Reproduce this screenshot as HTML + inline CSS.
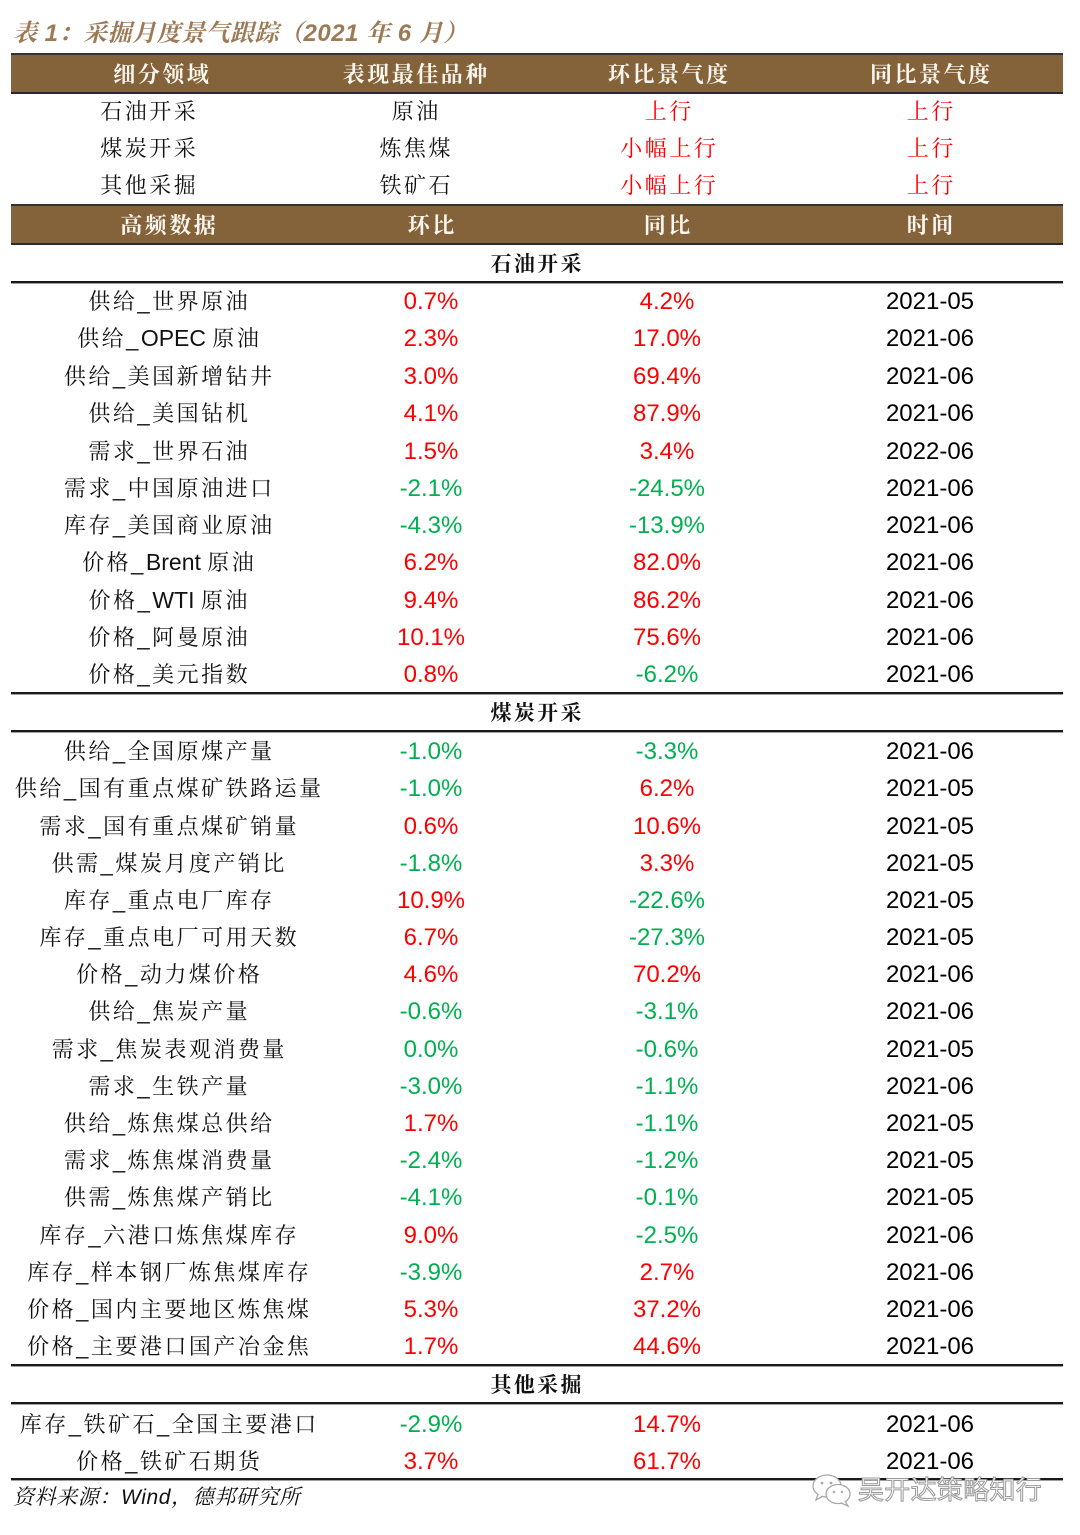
<!DOCTYPE html>
<html><head><meta charset="utf-8">
<style>
html,body{margin:0;padding:0;background:#fff;}
body{width:1080px;height:1535px;position:relative;overflow:hidden;font-family:"Liberation Sans","Noto Serif CJK SC",serif;}
.title{position:absolute;left:13px;top:18px;font-family:"Liberation Sans","Noto Serif CJK SC",serif;font-weight:700;font-style:italic;font-size:24px;line-height:32px;color:#9c7a55;white-space:nowrap;letter-spacing:0.5px;}
.band{position:absolute;left:11px;width:1052px;background:#84633a;border-top:2px solid #333;border-bottom:2px solid #2a2a2a;box-sizing:border-box;}
.ln{position:absolute;left:11px;width:1052px;height:2px;background:#1a1a1a;border-bottom:1px solid #a0a0a0;}
.r{position:absolute;left:0;width:1080px;height:37px;line-height:37px;}
.c{position:absolute;top:0;width:320px;text-align:center;white-space:nowrap;}
.t{font-family:"Liberation Sans","Noto Serif CJK SC",serif;font-size:22px;letter-spacing:2.5px;text-indent:2.5px;color:#111;}
.t .l{letter-spacing:0;font-size:23px;}
.h{font-family:"Noto Serif CJK SC",serif;font-weight:700;font-size:22px;letter-spacing:2.5px;text-indent:2.5px;color:#fbf7f0;}
.s{font-family:"Noto Serif CJK SC",serif;font-weight:700;font-size:21px;letter-spacing:2.3px;text-indent:2.3px;color:#111;}
.n{font-family:"Liberation Sans",sans-serif;font-size:24px;}
.red{color:#ff0000;}
.grn{color:#00b050;}
.blk{color:#000;}
.c1{left:8px;} .c2{left:271px;} .c3{left:507px;} .c4{left:770px;}
.u1{left:-12px;} .uh1{left:1px;} .u2{left:255px;} .u3{left:508px;} .u4{left:770px;}
.foot{position:absolute;left:13px;top:1484px;font-family:"Liberation Sans","Noto Serif CJK SC",serif;font-style:italic;font-size:21px;line-height:28px;color:#111;white-space:nowrap;letter-spacing:0.6px;}
.wm{position:absolute;left:858px;top:1474px;font-family:"Liberation Sans","Noto Sans CJK SC",sans-serif;font-size:26px;line-height:32px;color:#fff;-webkit-text-stroke:1px #9a9a9a;white-space:nowrap;letter-spacing:0.3px;}
</style></head><body>

<div class="title">表 1：采掘月度景气跟踪（2021 年 6 月）</div>

<!-- Upper header band -->
<div class="band" style="top:53px;height:41px;"></div>
<div class="r" style="top:55px;"><div class="c uh1 h">细分领域</div><div class="c u2 h">表现最佳品种</div><div class="c u3 h">环比景气度</div><div class="c u4 h">同比景气度</div></div>

<div class="r" style="top:93px;"><div class="c u1 t">石油开采</div><div class="c u2 t">原油</div><div class="c u3 t red">上行</div><div class="c u4 t red">上行</div></div>
<div class="r" style="top:130px;"><div class="c u1 t">煤炭开采</div><div class="c u2 t">炼焦煤</div><div class="c u3 t red">小幅上行</div><div class="c u4 t red">上行</div></div>
<div class="r" style="top:167px;"><div class="c u1 t">其他采掘</div><div class="c u2 t">铁矿石</div><div class="c u3 t red">小幅上行</div><div class="c u4 t red">上行</div></div>

<!-- Lower header band -->
<div class="band" style="top:204px;height:41px;"></div>
<div class="r" style="top:206px;"><div class="c c1 h">高频数据</div><div class="c c2 h">环比</div><div class="c c3 h">同比</div><div class="c c4 h">时间</div></div>

<div class="r" style="top:245px;"><div class="c s" style="left:376px;">石油开采</div></div>
<div class="ln" style="top:281px;"></div>

<div class="r" style="top:283px;"><div class="c c1 t">供给_世界原油</div><div class="c c2 n red">0.7%</div><div class="c c3 n red">4.2%</div><div class="c c4 n blk">2021-05</div></div>
<div class="r" style="top:320px;"><div class="c c1 t">供给_<span class="l">OPEC </span>原油</div><div class="c c2 n red">2.3%</div><div class="c c3 n red">17.0%</div><div class="c c4 n blk">2021-06</div></div>
<div class="r" style="top:358px;"><div class="c c1 t">供给_美国新增钻井</div><div class="c c2 n red">3.0%</div><div class="c c3 n red">69.4%</div><div class="c c4 n blk">2021-06</div></div>
<div class="r" style="top:395px;"><div class="c c1 t">供给_美国钻机</div><div class="c c2 n red">4.1%</div><div class="c c3 n red">87.9%</div><div class="c c4 n blk">2021-06</div></div>
<div class="r" style="top:433px;"><div class="c c1 t">需求_世界石油</div><div class="c c2 n red">1.5%</div><div class="c c3 n red">3.4%</div><div class="c c4 n blk">2022-06</div></div>
<div class="r" style="top:470px;"><div class="c c1 t">需求_中国原油进口</div><div class="c c2 n grn">-2.1%</div><div class="c c3 n grn">-24.5%</div><div class="c c4 n blk">2021-06</div></div>
<div class="r" style="top:507px;"><div class="c c1 t">库存_美国商业原油</div><div class="c c2 n grn">-4.3%</div><div class="c c3 n grn">-13.9%</div><div class="c c4 n blk">2021-06</div></div>
<div class="r" style="top:544px;"><div class="c c1 t">价格_<span class="l">Brent </span>原油</div><div class="c c2 n red">6.2%</div><div class="c c3 n red">82.0%</div><div class="c c4 n blk">2021-06</div></div>
<div class="r" style="top:582px;"><div class="c c1 t">价格_<span class="l">WTI </span>原油</div><div class="c c2 n red">9.4%</div><div class="c c3 n red">86.2%</div><div class="c c4 n blk">2021-06</div></div>
<div class="r" style="top:619px;"><div class="c c1 t">价格_阿曼原油</div><div class="c c2 n red">10.1%</div><div class="c c3 n red">75.6%</div><div class="c c4 n blk">2021-06</div></div>
<div class="r" style="top:656px;"><div class="c c1 t">价格_美元指数</div><div class="c c2 n red">0.8%</div><div class="c c3 n grn">-6.2%</div><div class="c c4 n blk">2021-06</div></div>

<div class="ln" style="top:692px;"></div>
<div class="r" style="top:694px;"><div class="c s" style="left:376px;">煤炭开采</div></div>
<div class="ln" style="top:730px;"></div>

<div class="r" style="top:733px;"><div class="c c1 t">供给_全国原煤产量</div><div class="c c2 n grn">-1.0%</div><div class="c c3 n grn">-3.3%</div><div class="c c4 n blk">2021-06</div></div>
<div class="r" style="top:770px;"><div class="c c1 t">供给_国有重点煤矿铁路运量</div><div class="c c2 n grn">-1.0%</div><div class="c c3 n red">6.2%</div><div class="c c4 n blk">2021-05</div></div>
<div class="r" style="top:808px;"><div class="c c1 t">需求_国有重点煤矿销量</div><div class="c c2 n red">0.6%</div><div class="c c3 n red">10.6%</div><div class="c c4 n blk">2021-05</div></div>
<div class="r" style="top:845px;"><div class="c c1 t">供需_煤炭月度产销比</div><div class="c c2 n grn">-1.8%</div><div class="c c3 n red">3.3%</div><div class="c c4 n blk">2021-05</div></div>
<div class="r" style="top:882px;"><div class="c c1 t">库存_重点电厂库存</div><div class="c c2 n red">10.9%</div><div class="c c3 n grn">-22.6%</div><div class="c c4 n blk">2021-05</div></div>
<div class="r" style="top:919px;"><div class="c c1 t">库存_重点电厂可用天数</div><div class="c c2 n red">6.7%</div><div class="c c3 n grn">-27.3%</div><div class="c c4 n blk">2021-05</div></div>
<div class="r" style="top:956px;"><div class="c c1 t">价格_动力煤价格</div><div class="c c2 n red">4.6%</div><div class="c c3 n red">70.2%</div><div class="c c4 n blk">2021-06</div></div>
<div class="r" style="top:993px;"><div class="c c1 t">供给_焦炭产量</div><div class="c c2 n grn">-0.6%</div><div class="c c3 n grn">-3.1%</div><div class="c c4 n blk">2021-06</div></div>
<div class="r" style="top:1031px;"><div class="c c1 t">需求_焦炭表观消费量</div><div class="c c2 n grn">0.0%</div><div class="c c3 n grn">-0.6%</div><div class="c c4 n blk">2021-05</div></div>
<div class="r" style="top:1068px;"><div class="c c1 t">需求_生铁产量</div><div class="c c2 n grn">-3.0%</div><div class="c c3 n grn">-1.1%</div><div class="c c4 n blk">2021-06</div></div>
<div class="r" style="top:1105px;"><div class="c c1 t">供给_炼焦煤总供给</div><div class="c c2 n red">1.7%</div><div class="c c3 n grn">-1.1%</div><div class="c c4 n blk">2021-05</div></div>
<div class="r" style="top:1142px;"><div class="c c1 t">需求_炼焦煤消费量</div><div class="c c2 n grn">-2.4%</div><div class="c c3 n grn">-1.2%</div><div class="c c4 n blk">2021-05</div></div>
<div class="r" style="top:1179px;"><div class="c c1 t">供需_炼焦煤产销比</div><div class="c c2 n grn">-4.1%</div><div class="c c3 n grn">-0.1%</div><div class="c c4 n blk">2021-05</div></div>
<div class="r" style="top:1217px;"><div class="c c1 t">库存_六港口炼焦煤库存</div><div class="c c2 n red">9.0%</div><div class="c c3 n grn">-2.5%</div><div class="c c4 n blk">2021-06</div></div>
<div class="r" style="top:1254px;"><div class="c c1 t">库存_样本钢厂炼焦煤库存</div><div class="c c2 n grn">-3.9%</div><div class="c c3 n red">2.7%</div><div class="c c4 n blk">2021-06</div></div>
<div class="r" style="top:1291px;"><div class="c c1 t">价格_国内主要地区炼焦煤</div><div class="c c2 n red">5.3%</div><div class="c c3 n red">37.2%</div><div class="c c4 n blk">2021-06</div></div>
<div class="r" style="top:1328px;"><div class="c c1 t">价格_主要港口国产冶金焦</div><div class="c c2 n red">1.7%</div><div class="c c3 n red">44.6%</div><div class="c c4 n blk">2021-06</div></div>

<div class="ln" style="top:1364px;"></div>
<div class="r" style="top:1366px;"><div class="c s" style="left:376px;">其他采掘</div></div>
<div class="ln" style="top:1402px;"></div>

<div class="r" style="top:1406px;"><div class="c c1 t">库存_铁矿石_全国主要港口</div><div class="c c2 n grn">-2.9%</div><div class="c c3 n red">14.7%</div><div class="c c4 n blk">2021-06</div></div>
<div class="r" style="top:1443px;"><div class="c c1 t">价格_铁矿石期货</div><div class="c c2 n red">3.7%</div><div class="c c3 n red">61.7%</div><div class="c c4 n blk">2021-06</div></div>

<div class="ln" style="top:1478px;"></div>

<div class="foot">资料来源：Wind，德邦研究所</div>

<svg style="position:absolute;left:810px;top:1472px;" width="46" height="36" viewBox="0 0 46 36">
  <ellipse cx="17" cy="14" rx="14" ry="11" fill="#fff" stroke="#a8a8a8" stroke-width="1.3"/>
  <path d="M8 22 L6 28 L13 24" fill="#fff" stroke="#a8a8a8" stroke-width="1.3"/>
  <ellipse cx="28" cy="22" rx="12" ry="9.5" fill="#fff" stroke="#a8a8a8" stroke-width="1.3"/>
  <path d="M35 29 L38 34 L31 31" fill="#fff" stroke="#a8a8a8" stroke-width="1.3"/>
  <circle cx="12" cy="11" r="1.4" fill="#a8a8a8"/><circle cx="21" cy="11" r="1.4" fill="#a8a8a8"/>
  <circle cx="24" cy="20" r="1.2" fill="#a8a8a8"/><circle cx="32" cy="20" r="1.2" fill="#a8a8a8"/>
</svg>
<div class="wm">吴开达策略知行</div>

</body></html>
